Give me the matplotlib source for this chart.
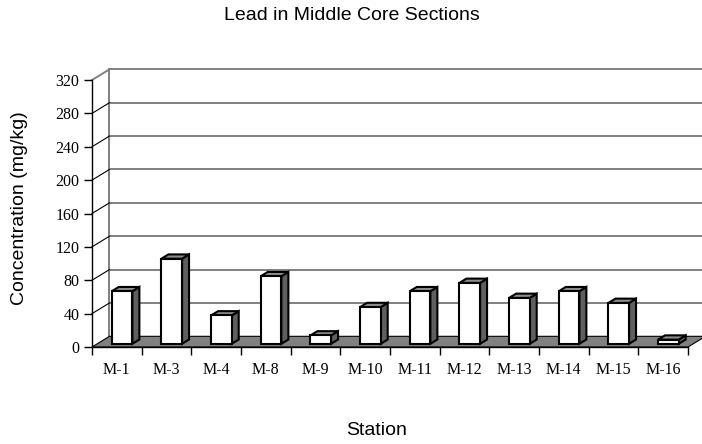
import numpy as np
import matplotlib
matplotlib.use("Agg")
import matplotlib.pyplot as plt
from matplotlib.patches import Polygon

stations = ["M-1", "M-3", "M-4", "M-8", "M-9", "M-10", "M-11",
            "M-12", "M-13", "M-14", "M-15", "M-16"]
lead = [63, 102, 34, 81, 10, 44, 63, 73, 55, 63, 49, 5]
yticks = [0, 40, 80, 120, 160, 200, 240, 280, 320]

# 3-D look: depth offset of the back wall (in category / value units)
DX = 0.352
DY = 12.8
BAR_W = 0.415
F0, F1 = 0.3, 0.7   # bar front/back position inside the floor depth

fig = plt.figure(figsize=(7.02, 4.44), dpi=100)
ax = fig.add_axes([92 / 702, 1 - 347 / 444, 596 / 702, 267 / 444])
ax.set_xlim(-0.5, len(stations) - 0.5)
ax.set_ylim(0, 320)
ax.patch.set_visible(False)

x_lo, x_hi = -0.5, len(stations) - 0.5

# floor
floor = Polygon([(x_lo, 0), (x_hi, 0), (x_hi + DX, DY), (x_lo + DX, DY)],
                closed=True, facecolor="#808080", edgecolor="black",
                linewidth=0.8, clip_on=False, zorder=1)
ax.add_patch(floor)

# back wall gridlines, left wall edge and diagonals
for v in yticks[1:]:
    ax.plot([x_lo + DX, x_hi + DX + 1], [v + DY, v + DY], color="#808080",
            linewidth=1.4, clip_on=False, zorder=0.5)
ax.plot([x_lo + DX, x_lo + DX], [DY, 320 + DY], color="#808080",
        linewidth=1.4, clip_on=False, zorder=0.5)
for v in yticks[1:]:
    col = "#808080" if v == yticks[-1] else "black"
    lw = 1.4 if v == yticks[-1] else 0.8
    ax.plot([x_lo, x_lo + DX], [v, v + DY], color=col, linewidth=lw,
            clip_on=False, zorder=0.6)

# bars
for i, v in enumerate(lead):
    x0 = i - BAR_W / 2 + F0 * DX
    x1 = i + BAR_W / 2 + F0 * DX
    yb = F0 * DY
    yt = v + F0 * DY
    ddx = (F1 - F0) * DX
    ddy = (F1 - F0) * DY
    front = Polygon([(x0, yb), (x1, yb), (x1, yt), (x0, yt)],
                    facecolor="white", edgecolor="black", linewidth=1.5,
                    joinstyle="miter", clip_on=False, zorder=3)
    side = Polygon([(x1, yb), (x1 + ddx, yb + ddy), (x1 + ddx, yt + ddy), (x1, yt)],
                   facecolor="#5f5f5f", edgecolor="black", linewidth=1.5,
                   joinstyle="miter", clip_on=False, zorder=3)
    top = Polygon([(x0, yt), (x1, yt), (x1 + ddx, yt + ddy), (x0 + ddx, yt + ddy)],
                  facecolor="#8c8c8c", edgecolor="black", linewidth=1.5,
                  joinstyle="miter", clip_on=False, zorder=3)
    for p in (side, top, front):
        ax.add_patch(p)

# front axes
for s in ("top", "right"):
    ax.spines[s].set_visible(False)
ax.spines["left"].set_linewidth(1.0)
ax.spines["bottom"].set_linewidth(1.0)
ax.spines["left"].set_zorder(4)
ax.spines["bottom"].set_zorder(4)

ax.set_yticks(yticks)
ax.set_yticklabels([str(t) for t in yticks], fontfamily="Liberation Serif",
                   fontsize=11.5)
ax.tick_params(axis="y", direction="out", length=6, width=1, pad=3)

ax.set_xticks(np.arange(-0.5, len(stations), 1.0))
ax.set_xticklabels([])
ax.set_xticks(np.arange(len(stations)), minor=True)
ax.set_xticklabels(stations, minor=True, fontfamily="Liberation Serif",
                   fontsize=11.5)
ax.tick_params(axis="x", which="major", direction="out", length=6, width=1)
ax.tick_params(axis="x", which="minor", length=0, pad=11)

sans = "Liberation Sans"
fig.text(352 / 702, 1 - 15 / 444, "Lead in Middle Core Sections",
         ha="center", va="center", fontfamily=sans, fontsize=14)
fig.text(377 / 702, 1 - 430 / 444, "Station", ha="center", va="center",
         fontfamily=sans, fontsize=14)
fig.text(20 / 702, 1 - 208 / 444, "Concentration (mg/kg)", ha="center",
         va="center", rotation=90, fontfamily=sans, fontsize=14)

fig.savefig("out.png", dpi=100)
